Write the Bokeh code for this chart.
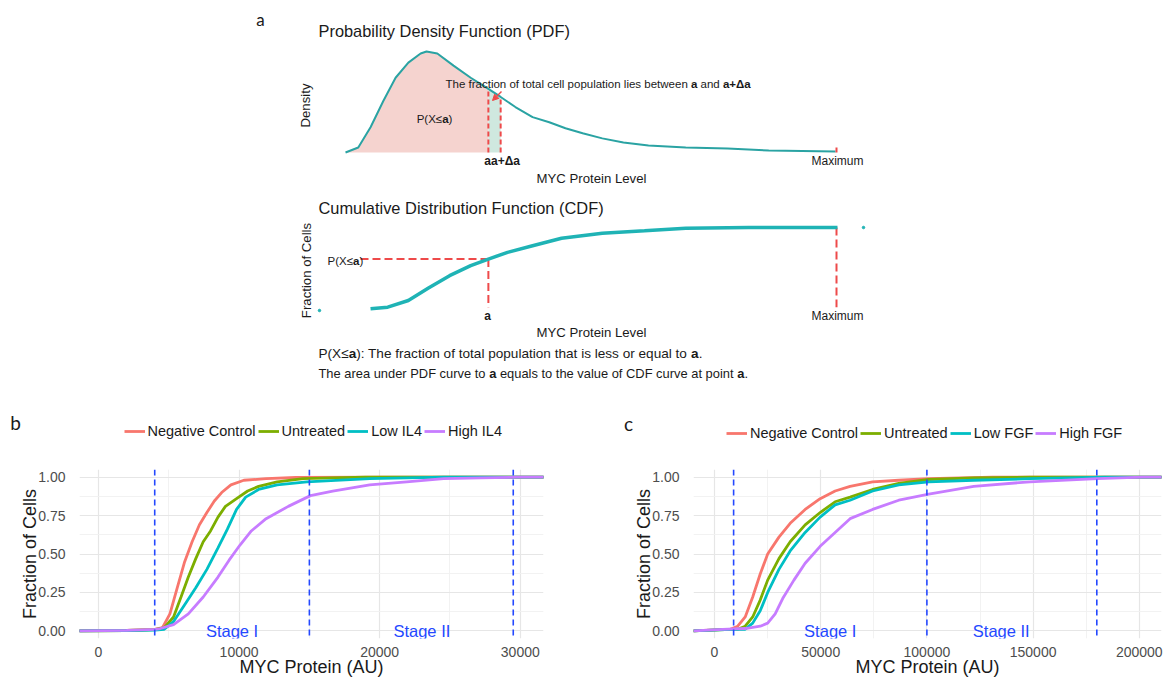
import numpy as np
from bokeh.plotting import figure
from bokeh.models import (Range1d, Label, FixedTicker, Legend, LegendItem, Arrow,
                          NormalHead, NumeralTickFormatter, Span)
from bokeh.layouts import column, row
from bokeh.embed import file_html
from bokeh.resources import INLINE

# ------------------------------------------------------------------ data
# panel a (schematic, arbitrary MYC level units 0..100 = Maximum)
pdf_level = [0, 2.6, 5.1, 7.7, 10.2, 12.8, 15.3, 16.5, 18.7, 22.0, 25.5, 29.1, 31.6,
             34.6, 38.1, 41.5, 44.8, 48.3, 52.3, 56.6, 61.7, 69.3, 77.8, 86.2, 99.8]
pdf_density = [0, 0.05, 0.25, 0.51, 0.74, 0.89, 0.98, 1.0, 0.98, 0.86, 0.74, 0.63, 0.55,
               0.45, 0.35, 0.30, 0.24, 0.19, 0.14, 0.10, 0.07, 0.05, 0.04, 0.02, 0.01]
cdf_level = [5.1, 8.6, 12.8, 16.9, 21.2, 25.5, 29.1, 33.0, 38.1, 44.0, 52.3, 60.9, 69.3, 82.1, 100.2]
cdf_fraction = [0.02, 0.04, 0.12, 0.27, 0.42, 0.54, 0.62, 0.70, 0.78, 0.87, 0.93, 0.96, 0.99, 1.0, 1.0]
cdf_dot_level = [-5.3, 105.5]
cdf_dot_fraction = [0.0, 1.0]
A_LEVEL = 29.1
A_DELTA_LEVEL = 31.6
MAX_LEVEL = 100

# panel b (IL4)
b_names = ["Negative Control", "Untreated", "Low IL4", "High IL4"]
b_neg_x = [-1400, 2000, 4000, 4550, 5080, 5600, 6130, 6660, 7180, 7710, 8240, 8760, 9420, 10340, 11920, 14030, 20000, 32000]
b_neg_y = [0, 0.002, 0.01, 0.02, 0.11, 0.28, 0.45, 0.58, 0.69, 0.77, 0.845, 0.90, 0.95, 0.98, 0.99, 0.998, 1.0, 1.0]
b_unt_x = [-1400, 2000, 4000, 4680, 5340, 5870, 6390, 6920, 7450, 7970, 8500, 9030, 9820, 10610, 11390, 12710, 14550, 16660, 19000, 32000]
b_unt_y = [0, 0.002, 0.008, 0.02, 0.09, 0.22, 0.35, 0.47, 0.58, 0.65, 0.74, 0.81, 0.86, 0.91, 0.94, 0.97, 0.99, 0.995, 1.0, 1.0]
b_low_x = [-1400, 2000, 4000, 4680, 5340, 6130, 6920, 7710, 8500, 9160, 9820, 10470, 11390, 12710, 14820, 19290, 24550, 32000]
b_low_y = [0, 0.002, 0.005, 0.01, 0.06, 0.17, 0.28, 0.40, 0.54, 0.66, 0.79, 0.87, 0.92, 0.95, 0.97, 0.99, 1.0, 1.0]
b_high_x = [-1400, 2000, 4000, 4290, 5340, 6390, 7450, 8500, 9290, 10080, 10870, 11920, 13500, 15080, 16660, 19290, 21920, 24550, 27180, 29820, 32000]
b_high_y = [0, 0.003, 0.01, 0.012, 0.04, 0.11, 0.22, 0.35, 0.46, 0.56, 0.65, 0.73, 0.81, 0.88, 0.91, 0.95, 0.97, 0.99, 0.995, 1.0, 1.0]
b_stage_bounds = [4000, 15000, 29500]
b_stage_labels = ["Stage I", "Stage II"]
b_stage_label_x = [9500, 23000]
b_xticks = [0, 10000, 20000, 30000]
b_xminor = [5000, 15000, 25000]

# panel c (FGF)
c_names = ["Negative Control", "Untreated", "Low FGF", "High FGF"]
c_neg_x = [-10000, 5000, 7400, 10930, 14460, 17990, 21520, 25040, 30340, 35630, 42680, 49740, 56790, 63840, 74430, 86770, 100880, 130860, 212000]
c_neg_y = [0, 0.01, 0.01, 0.03, 0.09, 0.22, 0.37, 0.50, 0.61, 0.70, 0.79, 0.86, 0.91, 0.94, 0.97, 0.98, 0.99, 1.0, 1.0]
c_unt_x = [-10000, 5000, 10930, 14460, 17990, 21520, 25040, 30340, 35630, 42680, 49740, 56790, 63840, 74430, 86770, 100880, 122040, 148500, 212000]
c_unt_y = [0, 0.008, 0.01, 0.03, 0.09, 0.20, 0.33, 0.47, 0.58, 0.69, 0.77, 0.84, 0.87, 0.92, 0.96, 0.985, 0.995, 1.0, 1.0]
c_low_x = [-10000, 5000, 14460, 17990, 21520, 25040, 30340, 35630, 42680, 49740, 56790, 63840, 74430, 86770, 100880, 122040, 148500, 183770, 212000]
c_low_y = [0, 0.008, 0.01, 0.05, 0.13, 0.25, 0.40, 0.52, 0.64, 0.74, 0.82, 0.85, 0.91, 0.95, 0.97, 0.98, 0.99, 1.0, 1.0]
c_high_x = [-10000, 3880, 14460, 21520, 25040, 28570, 32100, 37390, 42680, 49740, 56790, 63840, 74430, 86770, 100880, 122040, 148500, 180240, 201400, 212000]
c_high_y = [0, 0.01, 0.015, 0.03, 0.05, 0.11, 0.21, 0.33, 0.44, 0.55, 0.64, 0.73, 0.79, 0.85, 0.89, 0.94, 0.97, 0.99, 1.0, 1.0]
c_stage_bounds = [9000, 100000, 180000]
c_stage_labels = ["Stage I", "Stage II"]
c_stage_label_x = [54500, 135000]
c_xticks = [0, 50000, 100000, 150000, 200000]
c_xminor = [25000, 75000, 125000, 175000]

y_ticks = [0, 0.25, 0.5, 0.75, 1.0]
y_minor = [0.125, 0.375, 0.625, 0.875]
series_colors = ["#F8766D", "#7CAE00", "#00BFC4", "#C77CFF"]

# ------------------------------------------------------------------ style
FONT = "Liberation Sans"
LETTER_FONT = "Lato"
TEXT = "#1a1a1a"
TEAL_PDF = "#2aa3a3"
TEAL_CDF = "#1fb3b5"
PINK = "#f5d3cf"
MINT = "#cfe8df"
RED = "#ee4a4a"
BLUE = "#2448ff"

AW = {' ': 278, '(': 333, ')': 333, '+': 584, '.': 278, ':': 278, '≤': 549, 'Δ': 668,
      'A': 667, 'B': 667, 'C': 722, 'D': 722, 'E': 667, 'F': 611, 'G': 778, 'H': 722, 'I': 278,
      'L': 556, 'M': 833, 'N': 722, 'O': 778, 'P': 667, 'S': 667, 'T': 611, 'U': 722, 'X': 667, 'Y': 667,
      'a': 556, 'b': 556, 'c': 500, 'd': 556, 'e': 556, 'f': 278, 'g': 556, 'h': 556, 'i': 222,
      'j': 222, 'k': 500, 'l': 222, 'm': 833, 'n': 556, 'o': 556, 'p': 556, 'q': 556, 'r': 333,
      's': 500, 't': 278, 'u': 556, 'v': 500, 'w': 722, 'x': 500, 'y': 500, 'z': 500}


def tw(s, size):
    return sum(AW.get(ch, 556) for ch in s) / 1000.0 * size


def add_text(fig, x, y, text, size, bold=False, align="left", baseline="middle",
             color=TEXT, angle=0.0, font=FONT):
    fig.add_layout(Label(x=x, y=y, text=text, text_font=font, text_font_size=f"{size}px",
                         text_font_style="bold" if bold else "normal", text_align=align,
                         text_baseline=baseline, text_color=color, angle=angle))


def rich(fig, segs, x_px, y_px, size, fx, fy, color=TEXT):
    cur = x_px
    for txt, bold in segs:
        lead = len(txt) - len(txt.lstrip(' '))
        trail = len(txt) - len(txt.rstrip(' '))
        core = txt.strip(' ')
        cur += lead * tw(' ', size)
        add_text(fig, fx(cur), fy(y_px), core, size, bold=bold, color=color)
        cur += tw(core, size) + trail * tw(' ', size)


def bare_figure(w, h, xr, yr):
    f = figure(width=w, height=h, x_range=xr, y_range=yr, output_backend="svg",
               toolbar_location=None, x_axis_location=None, y_axis_location=None,
               min_border=0, outline_line_color=None)
    f.grid.visible = False
    return f


# ------------------------------------------------------------------ panel a
PAGE_W = 1164
PA_H = 393


def lv(px):
    return (px - 345) / 4.91


def dv(py):
    return (152 - py) / 101.0


def cv(py):
    return (310 - py) / 83.0


pa = bare_figure(PAGE_W, PA_H, Range1d(lv(0), lv(PAGE_W)), Range1d(dv(PA_H), dv(0)))
pa.extra_y_ranges = {"cdf": Range1d(cv(PA_H), cv(0))}

pl = np.array(pdf_level)
pd_ = np.array(pdf_density)
m1 = pl <= A_LEVEL + 1e-9
pa.varea(x=pl[m1], y1=np.zeros(m1.sum()), y2=pd_[m1], fill_color=PINK)
m2 = (pl >= A_LEVEL - 1e-9) & (pl <= A_DELTA_LEVEL + 1e-9)
pa.varea(x=pl[m2], y1=np.zeros(m2.sum()), y2=pd_[m2], fill_color=MINT)
dA = float(np.interp(A_LEVEL, pl, pd_))
dAD = float(np.interp(A_DELTA_LEVEL, pl, pd_))
pa.segment(x0=[A_LEVEL, A_DELTA_LEVEL], y0=[0, 0], x1=[A_LEVEL, A_DELTA_LEVEL], y1=[dA, dAD],
           line_color=RED, line_width=2, line_dash="5 3")
pa.line(pdf_level, pdf_density, line_color=TEAL_PDF, line_width=2)
pa.segment(x0=[MAX_LEVEL], y0=[0], x1=[MAX_LEVEL], y1=[0.05], line_color=RED, line_width=2)
pa.add_layout(Arrow(end=NormalHead(size=6, line_color=RED, fill_color=RED),
                    x_start=lv(501), y_start=dv(91), x_end=lv(492), y_end=dv(100),
                    line_color=RED, line_width=1.5))

cA = float(np.interp(A_LEVEL, cdf_level, cdf_fraction))
pa.segment(x0=[lv(360), A_LEVEL, MAX_LEVEL], y0=[cA, cA, 1.0],
           x1=[A_LEVEL, A_LEVEL, MAX_LEVEL], y1=[cA, 0.04, 0.04],
           line_color=RED, line_width=2, line_dash="8 4", y_range_name="cdf")
pa.line(cdf_level, cdf_fraction, line_color=TEAL_CDF, line_width=3.5, y_range_name="cdf")
pa.scatter(cdf_dot_level, cdf_dot_fraction, size=2.5, color=TEAL_CDF, y_range_name="cdf")

add_text(pa, lv(260), dv(19), "a", 17, font=LETTER_FONT, align="center")
add_text(pa, lv(318), dv(30), "Probability Density Function (PDF)", 16.4)
add_text(pa, lv(305), dv(105), "Density", 13.2, align="center", angle=np.pi / 2)
rich(pa, [("The fraction of total cell population lies between ", False), ("a", True),
          (" and ", False), ("a+Δa", True)], 445, 83, 11.5, lv, dv)
w = tw("P(X≤a)", 11.5)
rich(pa, [("P(X≤", False), ("a", True), (")", False)], 434 - w / 2, 118, 11.5, lv, dv)
add_text(pa, lv(487), dv(160), "a", 12, bold=True, align="center")
add_text(pa, lv(490.5), dv(160), "a+Δa", 12, bold=True)
add_text(pa, lv(837), dv(160), "Maximum", 12, align="center")
add_text(pa, lv(591), dv(178), "MYC Protein Level", 13.2, align="center")

add_text(pa, lv(318), dv(207), "Cumulative Distribution Function (CDF)", 16.4)
add_text(pa, lv(306), dv(270), "Fraction of Cells", 13.2, align="center", angle=np.pi / 2)
rich(pa, [("P(X≤", False), ("a", True), (")", False)], 327, 260, 11.5, lv, dv)
add_text(pa, lv(487), dv(315), "a", 12, bold=True, align="center")
add_text(pa, lv(837), dv(315), "Maximum", 12, align="center")
add_text(pa, lv(591), dv(332), "MYC Protein Level", 13.2, align="center")
rich(pa, [("P(X≤", False), ("a", True),
          ("): The fraction of total population that is less or equal to ", False),
          ("a", True), (".", False)], 318, 353, 13.6, lv, dv)
rich(pa, [("The area under PDF curve to ", False), ("a", True),
          (" equals to the value of CDF curve at point ", False), ("a", True), (".", False)],
     318, 373, 12.9, lv, dv)

# ------------------------------------------------------------------ legend strips (b, c)
STRIP_TOP, STRIP_BOT = PA_H, 455
HALF = PAGE_W // 2


def legend_strip(page_left, names, letter, letter_px, legend_px):
    s = bare_figure(HALF, STRIP_BOT - STRIP_TOP, Range1d(page_left, page_left + HALF),
                    Range1d(STRIP_BOT, STRIP_TOP))
    # legend key proxies: kept outside the visible strip range
    proxies = [s.line(x=[page_left - 40, page_left - 30], y=[STRIP_TOP + 20, STRIP_TOP + 20],
                      line_color=c, line_width=2.8) for c in series_colors]
    lx, ly = legend_px
    leg = Legend(items=[LegendItem(label=n, renderers=[r]) for n, r in zip(names, proxies)],
                 orientation="horizontal", location=(lx - page_left, STRIP_BOT - (ly + 10)),
                 glyph_width=21, glyph_height=20, label_height=20, label_standoff=3,
                 spacing=2, padding=0, margin=0, border_line_color=None,
                 background_fill_alpha=0, label_text_font=FONT,
                 label_text_font_size="14.5px", label_text_color=TEXT)
    s.add_layout(leg)
    add_text(s, letter_px[0], letter_px[1], letter, 19, font=LETTER_FONT, align="center")
    return s


sb = legend_strip(0, b_names, "b", (15, 422), (123.5, 431))
sc = legend_strip(HALF, c_names, "c", (628, 423), (726, 433))


# ------------------------------------------------------------------ panels b, c
def cdf_panel(left_b, frame_w, top_b, frame_h, x_start, px_per_unit,
              xs, ys, bounds, st_labels, st_x, xticks, xminor):
    W, H = HALF, 679 - STRIP_BOT
    x_end = x_start + frame_w / px_per_unit
    p = figure(width=W, height=H, x_range=Range1d(x_start, x_end), y_range=Range1d(-0.05, 1.05),
               output_backend="svg", toolbar_location=None, outline_line_color=None,
               min_border_left=left_b, min_border_right=W - left_b - frame_w,
               min_border_top=top_b, min_border_bottom=H - top_b - frame_h)
    p.xaxis.ticker = FixedTicker(ticks=xticks, minor_ticks=xminor)
    p.yaxis.ticker = FixedTicker(ticks=y_ticks, minor_ticks=y_minor)
    p.xaxis.formatter = NumeralTickFormatter(format="0")
    p.yaxis.formatter = NumeralTickFormatter(format="0.00")
    for ax in p.axis:
        ax.axis_line_color = None
        ax.major_tick_line_color = None
        ax.minor_tick_line_color = None
        ax.major_label_text_font = FONT
        ax.major_label_text_font_size = "14px"
        ax.major_label_text_color = "#4d4d4d"
        ax.axis_label_text_font = FONT
        ax.axis_label_text_font_size = "18px"
        ax.axis_label_text_font_style = "normal"
        ax.axis_label_text_color = TEXT
    p.xaxis.major_label_standoff = 2
    p.yaxis.major_label_standoff = 8
    p.xaxis.axis_label_standoff = -3
    p.yaxis.axis_label_standoff = -5
    p.xaxis.axis_label = "MYC Protein (AU)"
    p.yaxis.axis_label = "Fraction of Cells"
    for g in p.grid:
        g.grid_line_color = "#e6e6e6"
        g.grid_line_width = 1.2
        g.minor_grid_line_color = "#f0f0f0"
        g.minor_grid_line_width = 0.9

    for x, y, col in zip(xs, ys, series_colors):
        p.line(x, y, line_color=col, line_width=2.8)
    for bnd in bounds:
        p.add_layout(Span(location=bnd, dimension="height", line_color=BLUE,
                          line_dash="6 4", line_width=1.6))
    for lab, sx in zip(st_labels, st_x):
        add_text(p, sx, 0.0, lab, 16.5, align="center", color=BLUE)
    return p


pb = cdf_panel(79, 464, 13, 172, -1350, 0.01406,
               [b_neg_x, b_unt_x, b_low_x, b_high_x], [b_neg_y, b_unt_y, b_low_y, b_high_y],
               b_stage_bounds, b_stage_labels, b_stage_label_x, b_xticks, b_xminor)
pc = cdf_panel(111, 468, 14, 170, -9887, 0.002124,
               [c_neg_x, c_unt_x, c_low_x, c_high_x], [c_neg_y, c_unt_y, c_low_y, c_high_y],
               c_stage_bounds, c_stage_labels, c_stage_label_x, c_xticks, c_xminor)

layout = column(pa, row(sb, sc), row(pb, pc))
open("out.html", "w").write(file_html(layout, INLINE))
